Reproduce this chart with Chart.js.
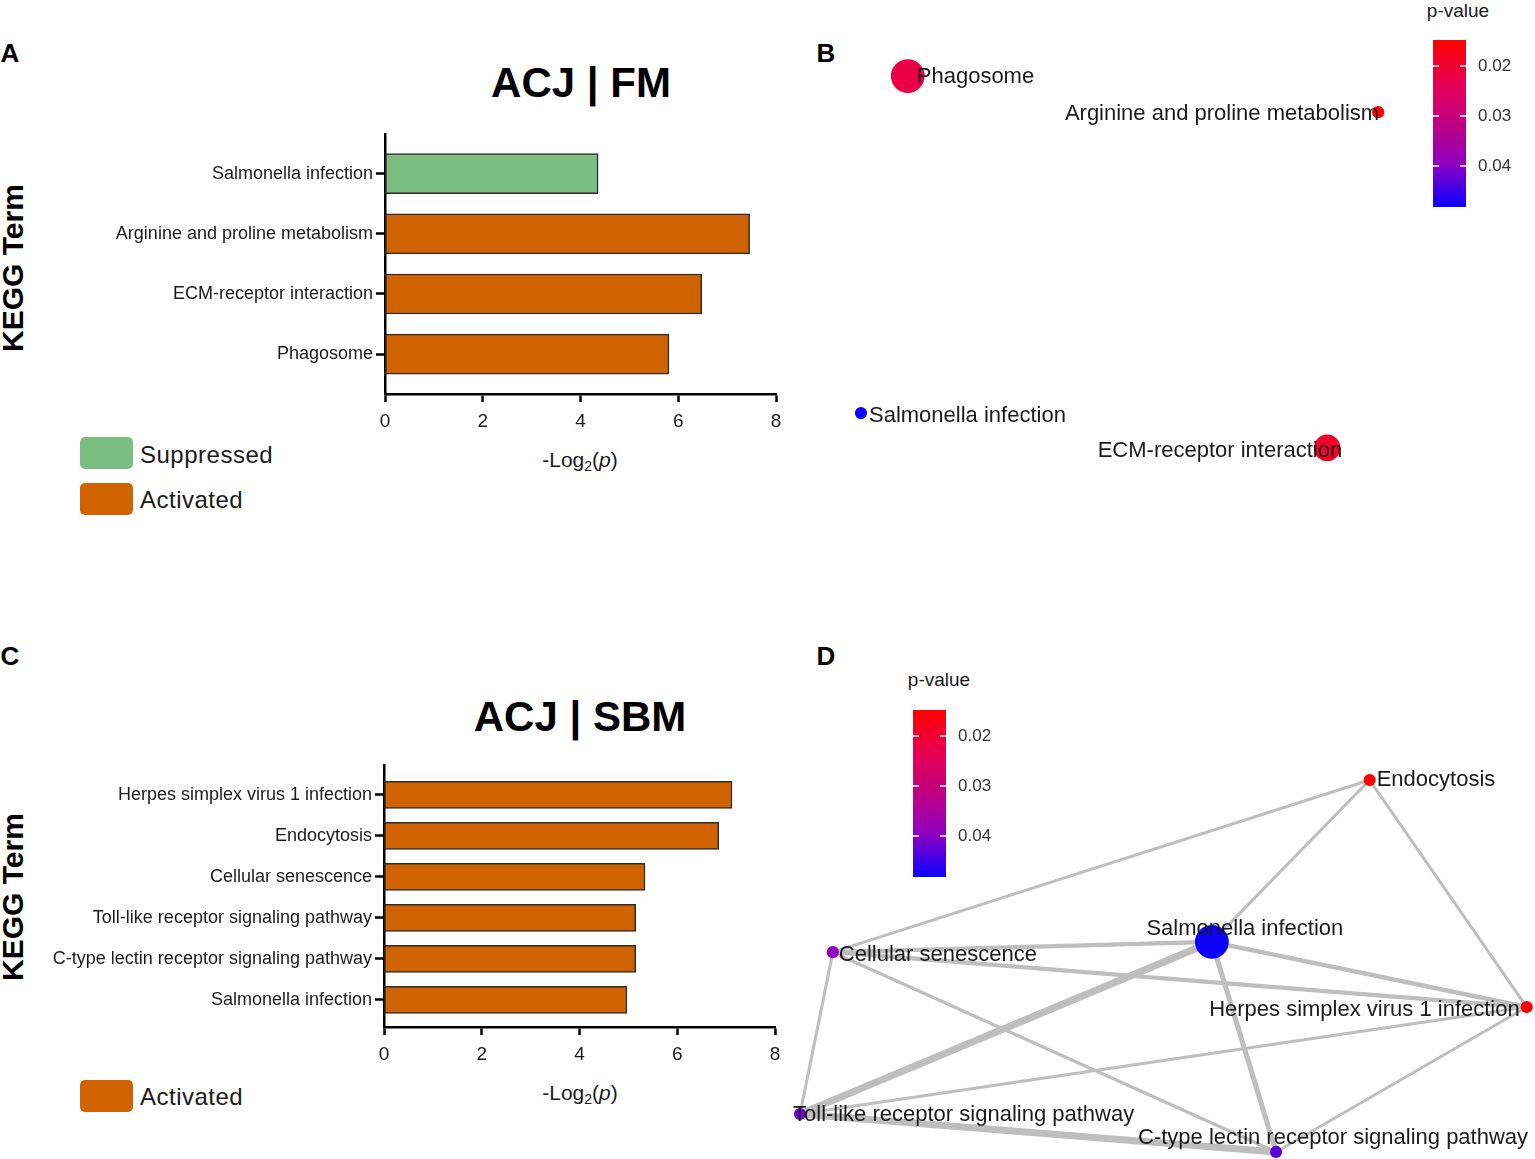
<!DOCTYPE html>
<html>
<head>
<meta charset="utf-8">
<script src="https://cdn.jsdelivr.net/npm/chart.js@4.4.1/dist/chart.umd.min.js"></script>
<style>
  body { margin: 0; background: #fff; width: 1535px; height: 1159px; position: relative; overflow: hidden;
         font-family: "Liberation Sans", Arial, sans-serif; color: #1a1a1a; }
  .box { position: absolute; }
  .txt { position: absolute; line-height: 1; white-space: nowrap; transform: translate(-50%, -50%); }
  .letter { font-weight: bold; font-size: 26px; color: #000; }
  .title { font-weight: bold; font-size: 42px; color: #000; }
  .kegg { font-weight: bold; font-size: 30px; color: #000; transform: translate(-50%, -50%) rotate(-90deg); }
  .xt { font-size: 21px; }
  .xt sub { font-size: 14px; vertical-align: -4px; }
  .leg { position: absolute; width: 53px; height: 32px; border-radius: 5px; }
  .legtxt { position: absolute; font-size: 24px; line-height: 1; letter-spacing: 0.5px; transform: translateY(-50%); }
  .pv { font-size: 19px; }
</style>
</head>
<body>

<div class="txt letter" style="left:10px;top:53px">A</div>
<div class="txt letter" style="left:826px;top:53px">B</div>
<div class="txt letter" style="left:10px;top:656px">C</div>
<div class="txt letter" style="left:826px;top:656px">D</div>

<div class="txt title" style="left:581px;top:83px">ACJ | FM</div>
<div class="txt title" style="left:580px;top:717px">ACJ | SBM</div>
<div class="txt kegg" style="left:13px;top:268px">KEGG Term</div>
<div class="txt kegg" style="left:13px;top:897px">KEGG Term</div>
<div class="txt xt" style="left:580px;top:461px">-Log<sub>2</sub>(<i>p</i>)</div>
<div class="txt xt" style="left:580px;top:1094px">-Log<sub>2</sub>(<i>p</i>)</div>

<div class="leg" id="legS1" style="left:80px;top:437px"></div>
<div class="legtxt" style="left:140px;top:455px">Suppressed</div>
<div class="leg" id="legA1" style="left:80px;top:483px"></div>
<div class="legtxt" style="left:140px;top:500px">Activated</div>
<div class="leg" id="legA2" style="left:80px;top:1080px"></div>
<div class="legtxt" style="left:140px;top:1097px">Activated</div>

<div class="txt pv" style="left:1458px;top:10px">p-value</div>
<div class="txt pv" style="left:939px;top:679px">p-value</div>

<canvas id="chartA" class="box" width="700" height="320" style="left:100px;top:120px"></canvas>
<canvas id="chartC" class="box" width="760" height="325" style="left:40px;top:750px"></canvas>
<canvas id="chartB" class="box" width="594" height="474" style="left:823px;top:23px"></canvas>
<canvas id="chartD" class="box" width="789" height="503" style="left:763px;top:673px"></canvas>
<canvas id="barB" class="box" width="130" height="227" style="left:1405px;top:0px"></canvas>
<canvas id="barD" class="box" width="130" height="227" style="left:885px;top:670px"></canvas>

<script>
// --- A: ACJ | FM ---
const fmTerms = ['Salmonella infection', 'Arginine and proline metabolism', 'ECM-receptor interaction', 'Phagosome'];
const fmLog2p = [4.36, 7.46, 6.48, 5.81];
const fmStatus = ['Suppressed', 'Activated', 'Activated', 'Activated'];

// --- C: ACJ | SBM ---
const sbmTerms = ['Herpes simplex virus 1 infection', 'Endocytosis', 'Cellular senescence',
                  'Toll-like receptor signaling pathway', 'C-type lectin receptor signaling pathway', 'Salmonella infection'];
const sbmLog2p = [7.12, 6.85, 5.34, 5.15, 5.15, 4.97];
const sbmStatus = ['Activated', 'Activated', 'Activated', 'Activated', 'Activated', 'Activated'];

const xTicks = [0, 2, 4, 6, 8];

// --- B: network FM ---
const fmNodes = ['Phagosome', 'Arginine and proline metabolism', 'Salmonella infection', 'ECM-receptor interaction'];
const fmNodeX = [0.121, 0.961, 0.0375, 0.870];
const fmNodeY = [0.918, 0.836, 0.152, 0.073];
const fmNodeP = [0.022, 0.015, 0.048, 0.019];
const fmGeneCount = [8, 2, 2, 6];

// --- D: network SBM ---
const sbmNodes = ['Endocytosis', 'Cellular senescence', 'Salmonella infection', 'Herpes simplex virus 1 infection',
                  'Toll-like receptor signaling pathway', 'C-type lectin receptor signaling pathway'];
const sbmNodeX = [0.781, 0.070, 0.572, 0.989, 0.0265, 0.657];
const sbmNodeY = [0.808, 0.441, 0.463, 0.324, 0.096, 0.015];
const sbmNodeP = [0.015, 0.039, 0.048, 0.016, 0.0415, 0.043];
const sbmGeneCount = [2, 2, 8, 2, 2, 2];
const sbmEdgeFrom = [0, 0, 0, 1, 1, 1, 1, 2, 2, 2, 4, 4, 5];
const sbmEdgeTo   = [1, 2, 3, 2, 3, 4, 5, 3, 4, 5, 3, 5, 3];
const sbmEdgeWeight = [1, 1, 1, 1.4, 1.4, 1, 1.1, 1.5, 2.4, 1.7, 1, 2.4, 1];

// colour bar
const pRange = [0.0148, 0.0482];
const pTicks = [0.02, 0.03, 0.04];

// estilos
const green = '#7bbe80';
const orange = '#d06200';
const font = "'Liberation Sans', Arial, sans-serif";
Chart.defaults.font.family = font;
Chart.defaults.animation = false;
Chart.defaults.plugins.legend.display = false;
Chart.defaults.plugins.tooltip.enabled = false;

document.getElementById('legS1').style.background = green;
document.getElementById('legA1').style.background = orange;
document.getElementById('legA2').style.background = orange;

const gradStops = [[0, 255, 0, 0], [0.25, 232, 0, 80], [0.5, 192, 0, 130], [0.75, 140, 0, 195], [1, 10, 0, 255]];
function colorFor(p) {
    let t = (p - pRange[0]) / (pRange[1] - pRange[0]);
    t = Math.max(0, Math.min(1, t));
    for (let i = 1; i < gradStops.length; i++) {
        const a = gradStops[i - 1], b = gradStops[i];
        if (t <= b[0]) {
            const f = (t - a[0]) / (b[0] - a[0]);
            return 'rgb(' + [1, 2, 3].map(k => Math.round(a[k] + (b[k] - a[k]) * f)).join(',') + ')';
        }
    }
    return 'rgb(10,0,255)';
}

// Gráfico de barras horizontales
function barChart(id, terms, values, status, opts) {
    return new Chart(document.getElementById(id), {
        type: 'bar',
        data: {
            datasets: [{
                data: values.map((v, i) => ({ x: v, y: i })),
                backgroundColor: status.map(s => s === 'Suppressed' ? green : orange),
                borderColor: '#2b2b2b',
                borderWidth: 1.5,
                borderSkipped: false,
                barThickness: opts.thickness
            }]
        },
        options: {
            responsive: false,
            indexAxis: 'y',
            layout: { padding: { top: opts.padTop, right: opts.padRight, left: 0, bottom: 0 } },
            scales: {
                y: {
                    type: 'linear', reverse: true, min: opts.yMin, max: opts.yMax, offset: false,
                    afterBuildTicks: s => { s.ticks = terms.map((t, i) => ({ value: i })); },
                    afterFit: s => { s.width = opts.yWidth; },
                    ticks: { callback: v => terms[v], autoSkip: false, font: { size: 18 }, color: '#1a1a1a', padding: 3 },
                    grid: { offset: false, drawOnChartArea: false, tickLength: 9, tickWidth: 2.5, tickColor: '#000' },
                    border: { color: '#000', width: 2.5 }
                },
                x: {
                    type: 'linear', min: 0, max: 8,
                    afterBuildTicks: s => { s.ticks = xTicks.map(v => ({ value: v })); },
                    afterFit: s => { s.height = opts.xHeight; },
                    ticks: { font: { size: 19 }, color: '#1a1a1a', padding: 8 },
                    grid: { drawOnChartArea: false, tickLength: 8, tickWidth: 2.5, tickColor: '#000' },
                    border: { color: '#000', width: 2.5 }
                }
            }
        }
    });
}

barChart('chartA', fmTerms, fmLog2p, fmStatus,
    { thickness: 40, yMin: -0.663, yMax: 3.663, yWidth: 285, xHeight: 46, padTop: 13, padRight: 24 });
barChart('chartC', sbmTerms, sbmLog2p, sbmStatus,
    { thickness: 27, yMin: -0.73, yMax: 5.66, yWidth: 344, xHeight: 48, padTop: 15, padRight: 25 });

// Red de términos
const labelPlugin = {
    id: 'nodeLabels',
    afterDatasetsDraw(chart) {
        const cfg = chart.options.plugins.nodeLabels;
        if (!cfg) return;
        const ctx = chart.ctx, xs = chart.scales.x, ys = chart.scales.y;
        ctx.save();
        ctx.font = '22px ' + font;
        ctx.fillStyle = '#1a1a1a';
        ctx.textBaseline = 'middle';
        cfg.names.forEach((n, i) => {
            const st = cfg.style[i];
            ctx.textAlign = st.align;
            ctx.fillText(n, xs.getPixelForValue(cfg.x[i]) + st.dx, ys.getPixelForValue(cfg.y[i]) + st.dy);
        });
        ctx.restore();
    }
};

function networkChart(id, names, nx, ny, np, counts, edges, style) {
    const datasets = edges.map(e => ({
        type: 'line',
        data: [{ x: nx[e.from], y: ny[e.from] }, { x: nx[e.to], y: ny[e.to] }],
        borderColor: '#bebebe',
        borderWidth: 3 * e.w,
        pointRadius: 0,
        clip: false,
        order: 2
    }));
    datasets.push({
        type: 'bubble',
        data: names.map((n, i) => ({ x: nx[i], y: ny[i], r: 2.5 + 1.8 * counts[i] })),
        backgroundColor: np.map(colorFor),
        borderWidth: 0,
        clip: false,
        order: 1
    });
    return new Chart(document.getElementById(id), {
        type: 'bubble',
        data: { datasets },
        options: {
            responsive: false,
            layout: { padding: 17 },
            scales: {
                x: { type: 'linear', min: 0, max: 1, display: false },
                y: { type: 'linear', min: 0, max: 1, display: false }
            },
            plugins: { nodeLabels: { names, x: nx, y: ny, style } }
        },
        plugins: [labelPlugin]
    });
}

networkChart('chartB', fmNodes, fmNodeX, fmNodeY, fmNodeP, fmGeneCount, [], [
    { align: 'left', dx: 9, dy: 1 },
    { align: 'right', dx: 1, dy: 2 },
    { align: 'left', dx: 8, dy: 3 },
    { align: 'right', dx: 15, dy: 3 }
]);

networkChart('chartD', sbmNodes, sbmNodeX, sbmNodeY, sbmNodeP, sbmGeneCount,
    sbmEdgeFrom.map((f, i) => ({ from: f, to: sbmEdgeTo[i], w: sbmEdgeWeight[i] })), [
    { align: 'left', dx: 7, dy: 0 },
    { align: 'left', dx: 6, dy: 3 },
    { align: 'center', dx: 33, dy: -13 },
    { align: 'right', dx: -7, dy: 3 },
    { align: 'left', dx: -7, dy: 1 },
    { align: 'center', dx: 57, dy: -14 }
]);

// Barra de color p-value
const tickMarks = {
    id: 'tickMarks',
    afterDatasetsDraw(chart) {
        const a = chart.chartArea, ys = chart.scales.y, ctx = chart.ctx;
        ctx.save();
        ctx.strokeStyle = '#fff';
        ctx.lineWidth = 1.5;
        pTicks.forEach(v => {
            const y = ys.getPixelForValue(v);
            ctx.beginPath();
            ctx.moveTo(a.left, y); ctx.lineTo(a.left + 6, y);
            ctx.moveTo(a.right - 6, y); ctx.lineTo(a.right, y);
            ctx.stroke();
        });
        ctx.restore();
    }
};

function colorBar(id) {
    return new Chart(document.getElementById(id), {
        type: 'bar',
        data: {
            labels: [''],
            datasets: [{
                data: [[pRange[0], pRange[1]]],
                backgroundColor: c => {
                    const a = c.chart.chartArea;
                    if (!a) return 'red';
                    const g = c.chart.ctx.createLinearGradient(0, a.top, 0, a.bottom);
                    for (let i = 0; i <= 20; i++) {
                        g.addColorStop(i / 20, colorFor(pRange[0] + (pRange[1] - pRange[0]) * i / 20));
                    }
                    return g;
                },
                borderWidth: 0,
                barPercentage: 1,
                categoryPercentage: 1
            }]
        },
        options: {
            responsive: false,
            layout: { padding: { top: 40, left: 28, bottom: 20, right: 0 } },
            scales: {
                x: { display: false },
                y: {
                    type: 'linear', position: 'right', reverse: true, min: pRange[0], max: pRange[1],
                    afterBuildTicks: s => { s.ticks = pTicks.map(v => ({ value: v })); },
                    afterFit: s => { s.width = 69; },
                    ticks: { callback: v => v.toFixed(2), font: { size: 17 }, color: '#333', padding: 4 },
                    grid: { display: false },
                    border: { display: false }
                }
            }
        },
        plugins: [tickMarks]
    });
}

colorBar('barB');
colorBar('barD');
</script>
</body>
</html>
